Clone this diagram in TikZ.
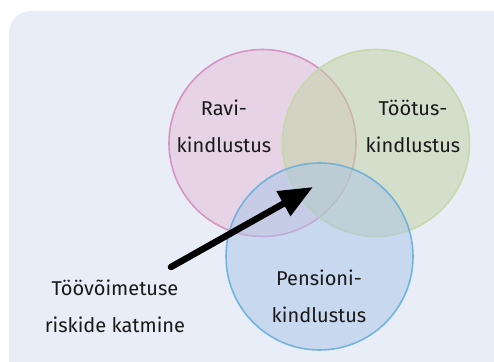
\documentclass[tikz,border=0pt]{standalone}
\usepackage{fontspec}
\setmainfont{Fira Sans}
\usetikzlibrary{arrows.meta}
\definecolor{panel}{HTML}{E9EDF7}
\definecolor{ravifill}{HTML}{E5BDD7}
\definecolor{ravidraw}{HTML}{D68CBE}
\definecolor{tootfill}{HTML}{C1D3A1}
\definecolor{tootdraw}{HTML}{C2D9A3}
\definecolor{pensfill}{HTML}{A9C5E7}
\definecolor{pensdraw}{HTML}{6BAFD9}
\tikzset{
  set/.style={circle, minimum size=187pt, inner sep=0pt, line width=1.6pt, fill opacity=0.5, draw opacity=0.9},
  label text/.style={font=\fontsize{20}{37}\selectfont, align=center, text=black!90},
}
\begin{document}
\begin{tikzpicture}[x=1pt, y=-1pt]
  \useasboundingbox (0,0) rectangle (494,361);
  % panel
  \fill[panel, rounded corners=22pt] (9,11) rectangle (520,390);
  % the three insurance sets
  \node[set, fill=ravifill, draw=ravidraw] (ravi) at (262.5,143) {};
  \node[set, fill=tootfill, draw=tootdraw] (toot) at (376,143) {};
  \node[set, fill=pensfill, draw=pensdraw] (pens) at (319.5,256.5) {};
  % labels
  \node[label text] (ravit) at (224,126.5) {Ravi-\\kindlustus};
  \node[label text] (toott) at (413,126.5) {Töötus-\\kindlustus};
  \node[label text] (penst) at (319,296.5) {Pensioni-\\kindlustus};
  \node[label text] (risk) at (115,306) {Töövõimetuse\\riskide katmine};
  % arrow into the common intersection
  \coordinate (tail) at (171,267);
  \coordinate (tip) at (313,187);
  \draw[line width=6.5pt, line cap=round, -{Triangle[length=34pt,width=27pt]}] (tail) -- (tip);
\end{tikzpicture}
\end{document}
